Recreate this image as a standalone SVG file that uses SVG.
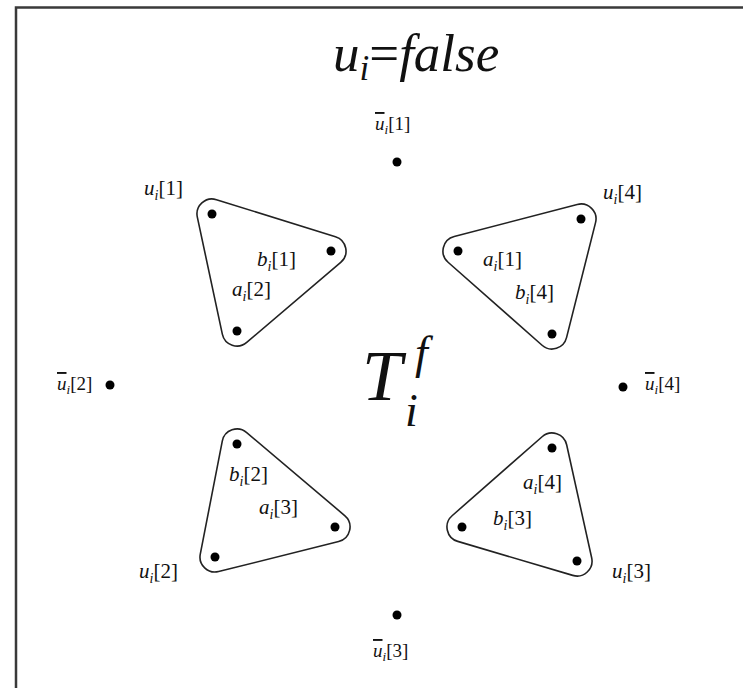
<svg xmlns="http://www.w3.org/2000/svg" width="743" height="688" viewBox="0 0 743 688">
<style>
text{font-family:"Liberation Serif","Times New Roman",serif;fill:#111}
.lab{font-size:21px}
.ulab{font-size:19px}
.it{font-style:italic}
.sub{font-style:italic;font-size:14px}
.ol{text-decoration:overline}
.outline{fill:none;stroke:#222;stroke-width:1.6}
.dot{fill:#000}
.frame{stroke:#3a3a3a;stroke-width:2.5;fill:none}
</style>
<rect width="743" height="688" fill="#fff"/>
<path class="frame" d="M16,688 L16,7.5 L743,7.5"/>
<g id="title"><text x="333" y="71" style="font-size:53px"><tspan class="it">u</tspan><tspan class="it" style="font-size:35px" dy="9">i</tspan><tspan dy="-9">=</tspan><tspan class="it">false</tspan></text></g>
<g id="T"><text x="362" y="400" class="it" style="font-size:72px">T</text><text x="415" y="368" class="it" style="font-size:46px">f</text><text x="405" y="426" class="it" style="font-size:46px">i</text></g>
<g id="connectors"></g>
<g id="ubar1"><circle class="dot" cx="397" cy="162" r="4.5"/><text x="375" y="130" class="ulab"><tspan class="it ol">u</tspan><tspan class="sub" style="font-size:13px" dy="4">i</tspan><tspan dy="-4">[1]</tspan></text></g>
<g id="ubar2"><circle class="dot" cx="110" cy="385" r="4.5"/><text x="57" y="390" class="ulab"><tspan class="it ol">u</tspan><tspan class="sub" style="font-size:13px" dy="4">i</tspan><tspan dy="-4">[2]</tspan></text></g>
<g id="ubar3"><circle class="dot" cx="397" cy="615" r="4.5"/><text x="373" y="657" class="ulab"><tspan class="it ol">u</tspan><tspan class="sub" style="font-size:13px" dy="4">i</tspan><tspan dy="-4">[3]</tspan></text></g>
<g id="ubar4"><circle class="dot" cx="623" cy="387" r="4.5"/><text x="645" y="390" class="ulab"><tspan class="it ol">u</tspan><tspan class="sub" style="font-size:13px" dy="4">i</tspan><tspan dy="-4">[4]</tspan></text></g>
<g id="tri1">
<path class="outline" d="M216.45,199.68 L335.45,236.68 A15,15 0 0 1 340.72,262.42 L246.72,342.42 A15,15 0 0 1 222.33,334.13 L197.33,217.13 A15,15 0 0 1 216.45,199.68 Z"/>
<circle class="dot" cx="212" cy="214" r="4.5"/><circle class="dot" cx="331" cy="251" r="4.5"/><circle class="dot" cx="237" cy="331" r="4.5"/>
<text x="144" y="195" class="lab"><tspan class="it">u</tspan><tspan class="sub" dy="5">i</tspan><tspan dy="-5">[1]</tspan></text>
<text x="257" y="266" class="lab"><tspan class="it">b</tspan><tspan class="sub" dy="5">i</tspan><tspan dy="-5">[1]</tspan></text>
<text x="232" y="296" class="lab"><tspan class="it">a</tspan><tspan class="sub" dy="5">i</tspan><tspan dy="-5">[2]</tspan></text>
</g>
<g id="tri4">
<path class="outline" d="M454.22,236.48 L577.22,204.48 A15,15 0 0 1 595.54,222.67 L566.54,337.67 A15,15 0 0 1 542.07,345.24 L448.07,262.24 A15,15 0 0 1 454.22,236.48 Z"/>
<circle class="dot" cx="458" cy="251" r="4.5"/><circle class="dot" cx="581" cy="219" r="4.5"/><circle class="dot" cx="552" cy="334" r="4.5"/>
<text x="603" y="199" class="lab"><tspan class="it">u</tspan><tspan class="sub" dy="5">i</tspan><tspan dy="-5">[4]</tspan></text>
<text x="483" y="266" class="lab"><tspan class="it">a</tspan><tspan class="sub" dy="5">i</tspan><tspan dy="-5">[1]</tspan></text>
<text x="515" y="299" class="lab"><tspan class="it">b</tspan><tspan class="sub" dy="5">i</tspan><tspan dy="-5">[4]</tspan></text>
</g>
<g id="tri2">
<path class="outline" d="M246.69,432.55 L344.69,515.55 A15,15 0 0 1 338.64,541.55 L218.64,571.55 A15,15 0 0 1 200.28,554.13 L222.28,441.13 A15,15 0 0 1 246.69,432.55 Z"/>
<circle class="dot" cx="237" cy="444" r="4.5"/><circle class="dot" cx="335" cy="527" r="4.5"/><circle class="dot" cx="215" cy="557" r="4.5"/>
<text x="139" y="578" class="lab"><tspan class="it">u</tspan><tspan class="sub" dy="5">i</tspan><tspan dy="-5">[2]</tspan></text>
<text x="229" y="481" class="lab"><tspan class="it">b</tspan><tspan class="sub" dy="5">i</tspan><tspan dy="-5">[2]</tspan></text>
<text x="259" y="514" class="lab"><tspan class="it">a</tspan><tspan class="sub" dy="5">i</tspan><tspan dy="-5">[3]</tspan></text>
</g>
<g id="tri3">
<path class="outline" d="M566.65,444.76 L591.65,557.76 A15,15 0 0 1 572.75,575.38 L457.75,541.38 A15,15 0 0 1 452.10,515.73 L542.10,436.73 A15,15 0 0 1 566.65,444.76 Z"/>
<circle class="dot" cx="552" cy="448" r="4.5"/><circle class="dot" cx="577" cy="561" r="4.5"/><circle class="dot" cx="462" cy="527" r="4.5"/>
<text x="612" y="578" class="lab"><tspan class="it">u</tspan><tspan class="sub" dy="5">i</tspan><tspan dy="-5">[3]</tspan></text>
<text x="523" y="489" class="lab"><tspan class="it">a</tspan><tspan class="sub" dy="5">i</tspan><tspan dy="-5">[4]</tspan></text>
<text x="493" y="525" class="lab"><tspan class="it">b</tspan><tspan class="sub" dy="5">i</tspan><tspan dy="-5">[3]</tspan></text>
</g>
</svg>
